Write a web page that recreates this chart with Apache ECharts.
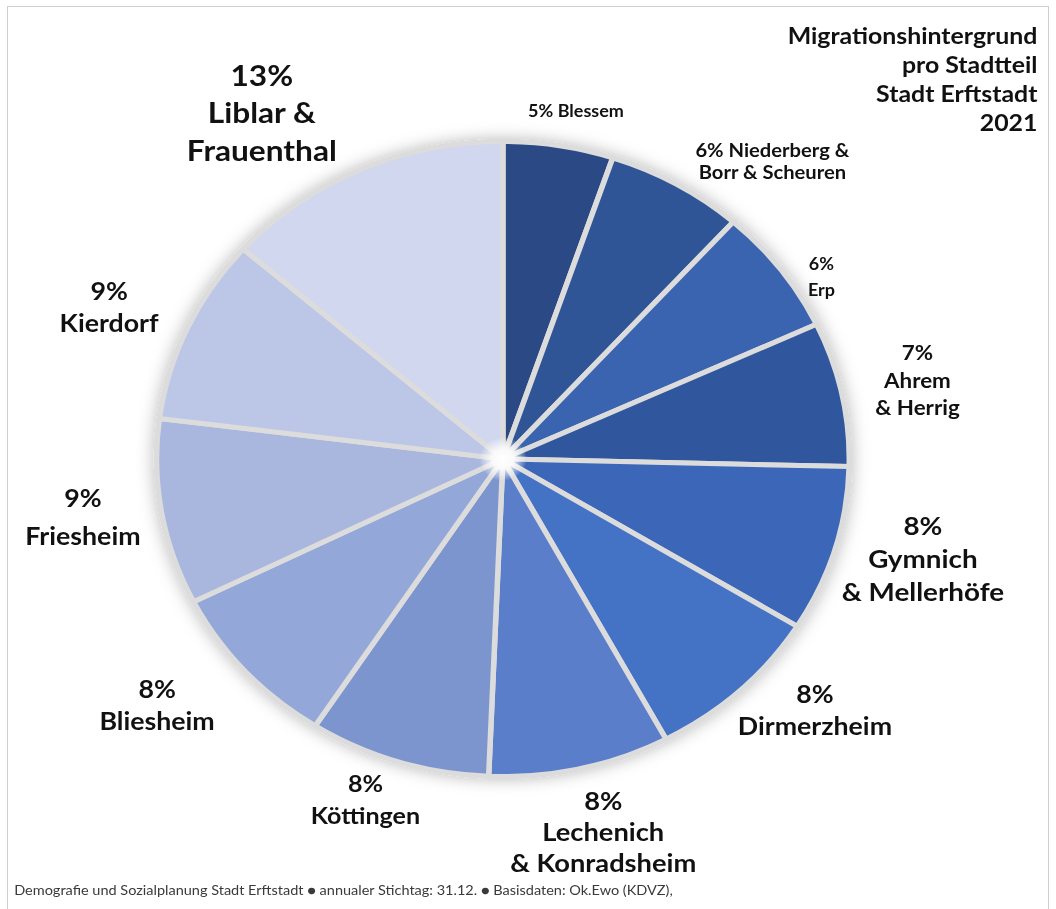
<!DOCTYPE html>
<html>
<head>
<meta charset="utf-8">
<script src="https://cdn.jsdelivr.net/npm/echarts@6/dist/echarts.min.js"></script>
<style>
  html, body { margin: 0; padding: 0; background: #ffffff; overflow: hidden; }
  #wrap { position: absolute; left: 0; top: 0; width: 1056px; height: 909px; background: #fff; }
  #frame { position: absolute; left: 7px; top: 6px; width: 1042px; height: 960px; border: 1px solid #cfcfcf; box-sizing: border-box; }
  #chart { position: absolute; left: 0; top: 0; width: 968px; height: 909px; transform: scaleX(1.0909); transform-origin: 0 0; }
</style>
</head>
<body>
<div id="wrap">
  <div id="frame"></div>
  <div id="chart"></div>
</div>
<script>
// ---- data ----
const categories = [
  'Blessem',
  'Niederberg &\nBorr & Scheuren',
  'Erp',
  'Ahrem\n& Herrig',
  'Gymnich\n& Mellerhöfe',
  'Dirmerzheim',
  'Lechenich\n& Konradsheim',
  'Köttingen',
  'Bliesheim',
  'Friesheim',
  'Kierdorf',
  'Liblar &\nFrauenthal'
];
const shares = [5.1, 6.4, 6.4, 7.3, 8.4, 8.3, 8.4, 8.4, 8.4, 9.4, 9.4, 13.4];
const sliceColors = ['#2b4a85', '#2f5597', '#3a64b0', '#30579e', '#3c67b8', '#4472c4',
                     '#5a7ec9', '#7d95cf', '#93a7d8', '#a9b7df', '#bcc7e7', '#d0d7ee'];
const titleLines = ['Migrationshintergrund', 'pro Stadtteil', 'Stadt Erftstadt', '2021'];
const footerText = 'Demografie und Sozialplanung Stadt Erftstadt \u25CF annualer Stichtag: 31.12. \u25CF Basisdaten: Ok.Ewo (KDVZ),';

// ---- label layout (text placement only) ----
const labelSep  = [' ', ' ', '\n', '\n', '\n', '\n', '\n', '\n', '\n', '\n', '\n', '\n'];
const labelPos  = [[528,111],[708,161],[753,277],[841,380],[846,558],[747,709],
                   [553,831],[335,799],[144,704],[76,516],[100,306],[240,112]];
const labelSize = [16.5, 18.5, 16.5, 20.5, 25.5, 24.5, 25, 23, 24.5, 24.5, 24.5, 29];
const labelLH   = [20, 22, 26, 27.5, 33, 32, 31, 32, 32, 38, 32, 37.5];

const FONT = 'Lato, "Open Sans", sans-serif';
const CENTER = [461, 459];
const R = 320;

const pieData = categories.map((c, i) => ({
  name: c,
  value: shares[i],
  itemStyle: { color: sliceColors[i] },
  label: { fontSize: labelSize[i], lineHeight: labelLH[i] }
}));

const chart = echarts.init(document.getElementById('chart'), null, { renderer: 'svg' });
chart.setOption({
  animation: false,
  backgroundColor: 'transparent',
  title: [{
    text: footerText,
    left: 8,
    top: 878,
    textStyle: { fontFamily: FONT, fontWeight: 'normal', fontSize: 13.3, color: '#3a3a3a' }
  }],
  graphic: [{
    type: 'text',
    right: 17,
    top: 20,
    silent: true,
    style: {
      text: titleLines.join('\n'),
      fontFamily: FONT, fontWeight: 'bold', fontSize: 22.8, lineHeight: 29,
      fill: '#111', textAlign: 'right', align: 'right'
    }
  }],
  series: [{
    type: 'pie',
    silent: true,
    center: CENTER,
    radius: [0, R],
    label: { show: false },
    labelLine: { show: false },
    itemStyle: { color: '#dcdcdc', shadowBlur: 16, shadowColor: 'rgba(0,0,0,0.28)', shadowOffsetX: 0, shadowOffsetY: 0 },
    data: [{ value: 1, name: 'bg' }]
  }, {
    type: 'pie',
    center: CENTER,
    radius: [0, R - 2.5],
    startAngle: 90,
    clockwise: true,
    itemStyle: { borderColor: '#dcdcdc', borderWidth: 5 },
    labelLine: { show: false },
    label: {
      show: true,
      position: 'outside',
      overflow: 'none',
      fontFamily: FONT,
      fontWeight: 'bold',
      color: '#111',
      align: 'center',
      formatter: p => Math.round(p.value) + '%' + labelSep[p.dataIndex] + p.name
    },
    labelLayout: p => ({
      x: labelPos[p.dataIndex][0],
      y: labelPos[p.dataIndex][1],
      align: 'center',
      verticalAlign: 'middle',
      width: 300
    }),
    data: pieData
  }, {
    type: 'pie',
    silent: true,
    center: CENTER,
    radius: [0, 22],
    label: { show: false },
    labelLine: { show: false },
    itemStyle: {
      color: {
        type: 'radial', x: 0.5, y: 0.5, r: 0.5,
        colorStops: [
          { offset: 0, color: 'rgba(255,255,255,1)' },
          { offset: 0.45, color: 'rgba(255,255,255,0.85)' },
          { offset: 1, color: 'rgba(255,255,255,0)' }
        ]
      }
    },
    data: [{ value: 1, name: 'glow' }]
  }]
});
</script>
</body>
</html>
